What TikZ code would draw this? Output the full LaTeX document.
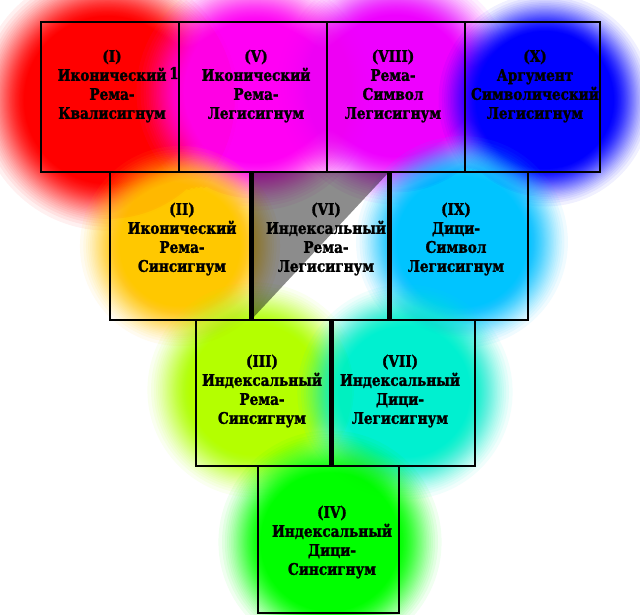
\documentclass[tikz,border=0pt]{standalone}
\usepackage{fontspec}
\newfontfamily\cellfont{DejaVu Serif Bold}[FakeStretch=0.85, FakeBold=1.5]
\pgfdeclarelayer{bg}
\pgfsetlayers{bg,main}
\definecolor{cRed}{HTML}{FF0000}
\definecolor{cMagA}{HTML}{FF00F4}
\definecolor{cMagB}{HTML}{EE00FF}
\definecolor{cBlue}{HTML}{0000FF}
\definecolor{cOrange}{HTML}{FFC800}
\definecolor{cCyan}{HTML}{00C4FF}
\definecolor{cYG}{HTML}{B4FF00}
\definecolor{cAqua}{HTML}{00F0D0}
\definecolor{cGreen}{HTML}{00FF00}
% soft blob: colour, x, y, outer radius, core radius
\newcommand\softblob[5]{%
  \foreach \k in {1,...,70}{%
    \pgfmathsetmacro\cc{(1-0.94^\k)/(1-0.94^70)}%
    \pgfmathsetmacro\tt{0.5-sin(asin(1-2*\cc)/3)}%
    \pgfmathsetmacro\rr{#4-(#4-#5)*\tt}%
    \fill[#1, opacity=0.06] (#2,#3) circle (\rr pt);
  }}
\tikzset{
  cell/.style={draw=black, line width=1.4pt, inner sep=0pt, outer sep=0pt, anchor=north west},
  lbl/.style={font=\cellfont\fontsize{16}{19}\selectfont, align=center, inner sep=0pt, text=black},
  divider/.style={line width=5pt, black}
}
\begin{document}
\begin{tikzpicture}[x=1pt, y=-1pt]
\useasboundingbox (0,0) rectangle (640,614);
% cells
\node[cell, minimum width=138pt, minimum height=150pt] (c1) at (41,22) {};
\node[cell, minimum width=148pt, minimum height=150pt] (c5) at (179,22) {};
\node[cell, minimum width=138pt, minimum height=150pt] (c8) at (327,22) {};
\node[cell, minimum width=135pt, minimum height=150pt] (c10) at (465,22) {};
\node[cell, minimum width=141pt, minimum height=148pt] (c2) at (110,172) {};
\node[cell, minimum width=138pt, minimum height=148pt] (c6) at (251,172) {};
\node[cell, minimum width=139pt, minimum height=148pt] (c9) at (389,172) {};
\node[cell, minimum width=135pt, minimum height=146pt] (c3) at (196,320) {};
\node[cell, minimum width=144pt, minimum height=146pt] (c7) at (331,320) {};
\node[cell, minimum width=141pt, minimum height=147pt] (c4) at (258,466) {};
% background colour blobs
\begin{pgfonlayer}{bg}
\fill[white] (0,0) rectangle (640,614);
\softblob{cRed}{108}{100}{140}{78}
\softblob{cMagA}{255}{92}{128}{65}
\softblob{cMagB}{396}{86}{128}{65}
\softblob{cBlue}{545}{100}{114}{64}
\softblob{cOrange}{180}{246}{108}{55}
\softblob{cCyan}{462}{242}{114}{60}
\softblob{cYG}{255}{390}{116}{60}
\softblob{cAqua}{405}{392}{116}{60}
\softblob{cGreen}{330}{542}{120}{64}
\fill[black, opacity=0.45] (c6.north west) -- (c6.north east) -- (c6.south west) -- cycle;
\end{pgfonlayer}
% thick dividers
\draw[divider] (c2.north east) -- (c2.south east);
\draw[divider] (c6.north east) -- (c6.south east);
\draw[divider] (c3.north east) -- (c3.south east);
% labels
\node[lbl] (t1) at (112,86) {(I)\\Иконический\\Рема-\\Квалисигнум};
\node[lbl] (fn) at (174,73) {1};
\node[lbl] (t5) at (256,86) {(V)\\Иконический\\Рема-\\Легисигнум};
\node[lbl] (t8) at (393,86) {(VIII)\\Рема-\\Символ\\Легисигнум};
\node[lbl] (t10) at (535,86) {(X)\\Аргумент\\Символический\\Легисигнум};
\node[lbl] (t2) at (182,239) {(II)\\Иконический\\Рема-\\Синсигнум};
\node[lbl] (t6) at (326,239) {(VI)\\Индексальный\\Рема-\\Легисигнум};
\node[lbl] (t9) at (456,239) {(IX)\\Дици-\\Символ\\Легисигнум};
\node[lbl] (t3) at (262,391) {(III)\\Индексальный\\Рема-\\Синсигнум};
\node[lbl] (t7) at (400,391) {(VII)\\Индексальный\\Дици-\\Легисигнум};
\node[lbl] (t4) at (332,542) {(IV)\\Индексальный\\Дици-\\Синсигнум};
\end{tikzpicture}
\end{document}
